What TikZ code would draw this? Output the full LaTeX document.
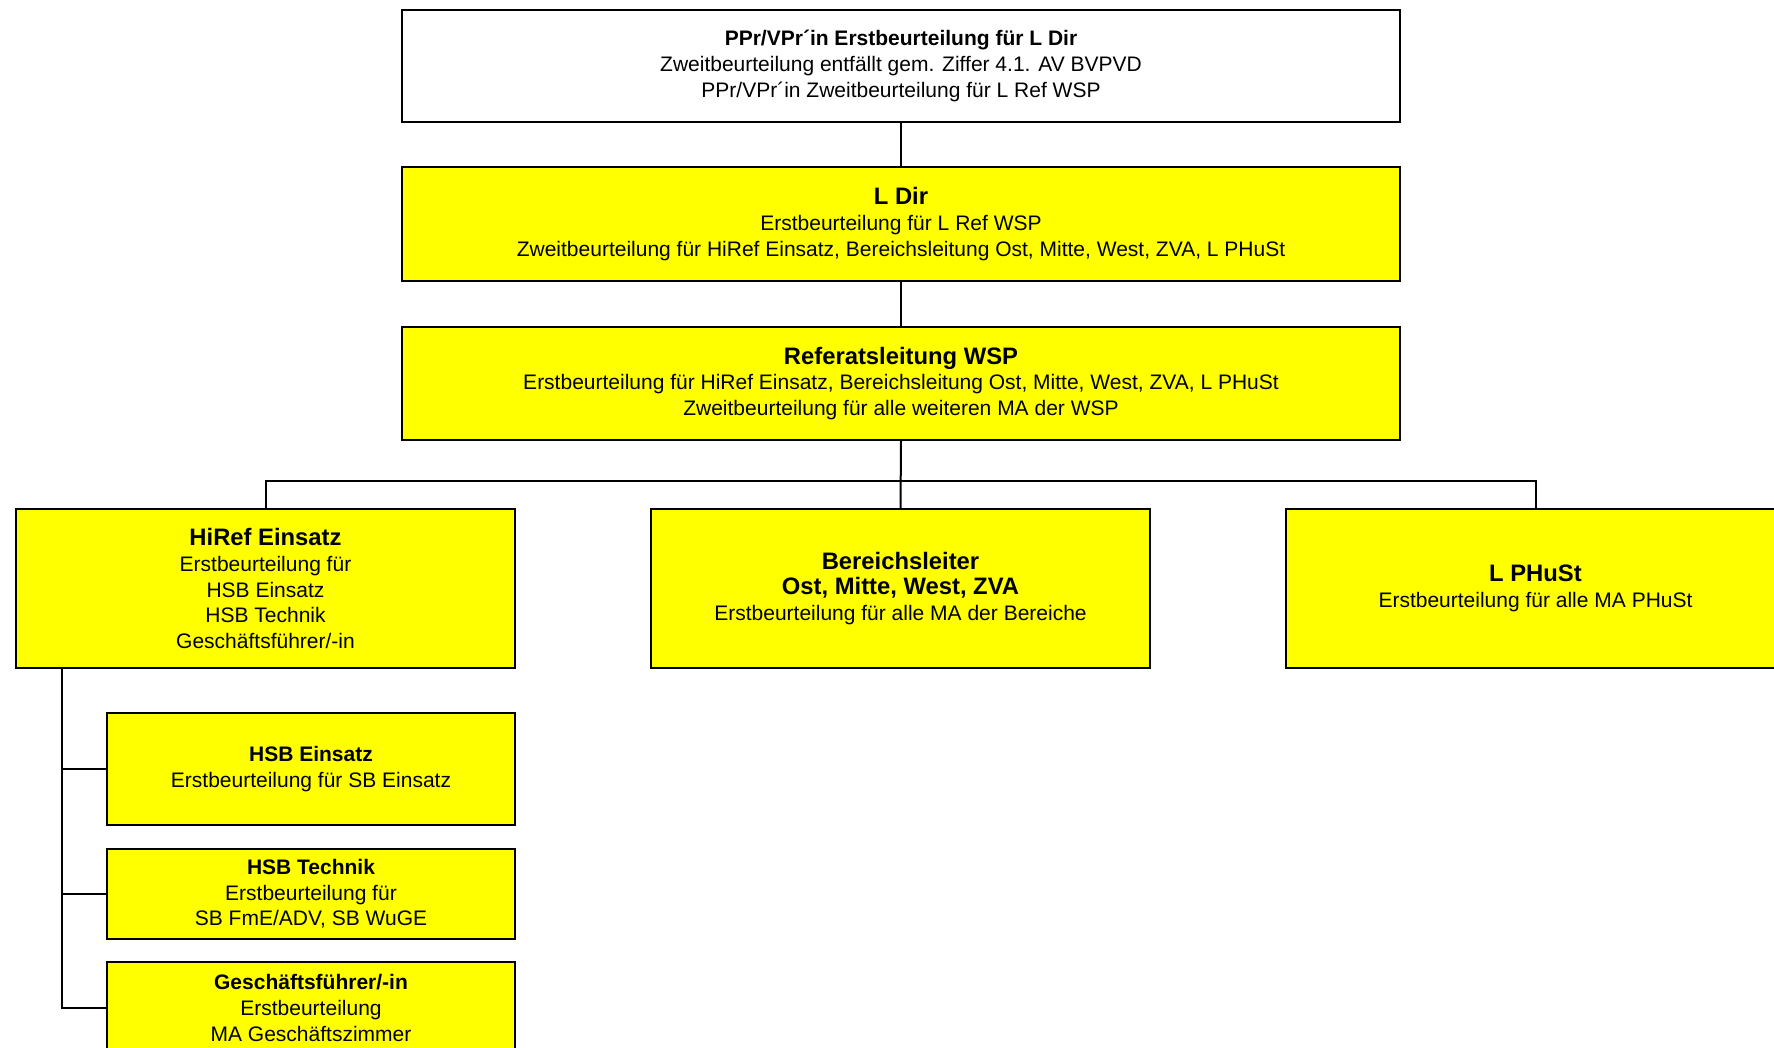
\documentclass[tikz,border=0pt]{standalone}
\usepackage{fontspec}
\setmainfont{Liberation Sans}
\definecolor{boxyellow}{RGB}{255,255,0}
\newcommand{\normtxt}{\fontsize{10.5}{12.8}\selectfont}
\newcommand{\bigttl}[1]{{\fontsize{11.9}{15.2}\selectfont\bfseries #1}}
\begin{document}
\begin{tikzpicture}[x=0.5pt,y=-0.5pt,
  orgbox/.style={draw, line width=1pt, fill=boxyellow, align=center, inner sep=0pt, font=\normtxt},
  whitebox/.style={orgbox, fill=white},
  wide/.style={minimum width=499pt},
  conn/.style={line width=1pt}]
\clip (0,0) rectangle (1774,1048);
\fill[white] (0,0) rectangle (1774,1048);

\node[whitebox, wide, minimum height=56pt] (top) at (901,66)
  {\textbf{PPr/VPr´in Erstbeurteilung für L Dir}\\Zweitbeurteilung entfällt gem. Ziffer 4.1. AV BVPVD\\PPr/VPr´in Zweitbeurteilung für L Ref WSP};
\node[orgbox, wide, minimum height=57pt] (ldir) at (901,224)
  {\bigttl{L Dir}\\Erstbeurteilung für L Ref WSP\\Zweitbeurteilung für HiRef Einsatz, Bereichsleitung Ost, Mitte, West, ZVA, L PHuSt};
\node[orgbox, wide, minimum height=56.5pt] (ref) at (901,383.5)
  {\bigttl{Referatsleitung WSP}\\Erstbeurteilung für HiRef Einsatz, Bereichsleitung Ost, Mitte, West, ZVA, L PHuSt\\Zweitbeurteilung für alle weiteren MA der WSP};

\node[orgbox, minimum width=249.5pt, minimum height=79.5pt] (hiref) at (265.5,588.5)
  {\bigttl{HiRef Einsatz}\\Erstbeurteilung für\\HSB Einsatz\\HSB Technik\\Geschäftsführer/-in};
\node[orgbox, minimum width=249.5pt, minimum height=79.5pt] (bereich) at (900.5,588.5)
  {\bigttl{Bereichsleiter}\\\bigttl{Ost, Mitte, West, ZVA}\\Erstbeurteilung für alle MA der Bereiche};
\node[orgbox, minimum width=249.5pt, minimum height=79.5pt] (lphust) at (1535.5,588.5)
  {\bigttl{L PHuSt}\\Erstbeurteilung für alle MA PHuSt};

\node[orgbox, minimum width=204pt, minimum height=56pt] (hsbe) at (311,769)
  {\textbf{HSB Einsatz}\\Erstbeurteilung für SB Einsatz};
\node[orgbox, minimum width=204pt, minimum height=45pt] (hsbt) at (311,894)
  {\textbf{HSB Technik}\\Erstbeurteilung für\\SB FmE/ADV, SB WuGE};
\node[orgbox, minimum width=204pt, minimum height=46pt] (gf) at (311,1008)
  {\textbf{Geschäftsführer/-in}\\Erstbeurteilung\\MA Geschäftszimmer};

\draw[conn] (top.south) -- (ldir.north);
\draw[conn] (ldir.south) -- (ref.north);
\draw[conn] (ref.south) -- (bereich.north);
\coordinate (bus) at (901,481);
\draw[conn] (hiref.north) |- (bus) -| (lphust.north);
\coordinate (trunktop) at (62,668);
\draw[conn] (trunktop) |- (gf.west);
\draw[conn] (trunktop |- hsbe.west) -- (hsbe.west);
\draw[conn] (trunktop |- hsbt.west) -- (hsbt.west);
\end{tikzpicture}
\end{document}
